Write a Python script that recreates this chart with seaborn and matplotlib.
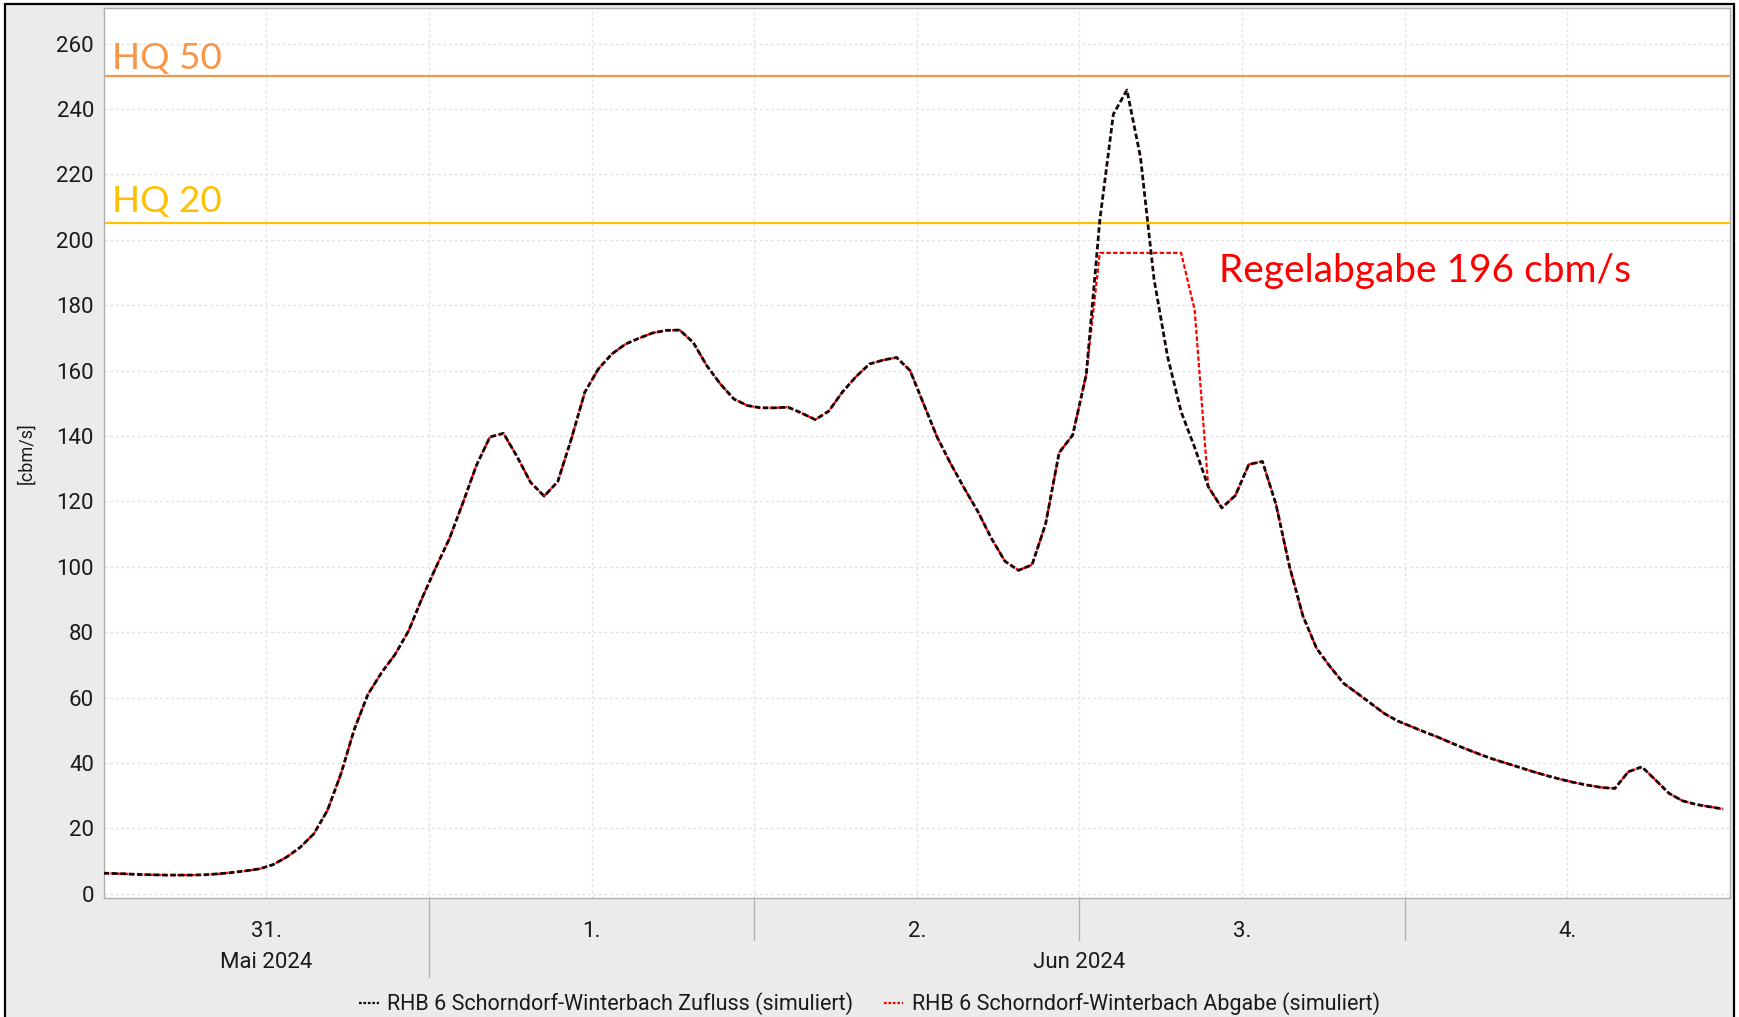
import numpy as np
import pandas as pd
import matplotlib
matplotlib.use("Agg")
import matplotlib.pyplot as plt
import matplotlib.transforms as mtransforms
from matplotlib.lines import Line2D
from matplotlib.patches import Rectangle
import seaborn as sns

# ---------------- data ----------------
# hours since 31 May 2024 00:00 (values are hourly means plotted at half past)
hours = [0.0] + [h + 0.5 for h in range(120)]
zufluss = [
    6.3,
    6.2, 6.1, 5.9, 5.8, 5.7, 5.7, 5.7, 5.8, 6.1, 6.5, 7.0, 7.6,
    8.9, 11.2, 14.2, 18.3, 25.4, 36.6, 50.4, 61.0, 67.6, 73.2, 80.4, 90.5,
    99.7, 108.5, 119.5, 131.0, 139.7, 140.8, 133.7, 125.8, 121.6, 126.0, 139.0, 153.4,
    160.5, 165.1, 168.1, 169.9, 171.5, 172.3, 172.4, 168.6, 161.5, 155.9, 151.3, 149.3,
    148.6, 148.6, 148.8, 147.0, 145.0, 147.6, 153.4, 158.1, 162.0, 163.2, 164.0, 160.0,
    149.8, 139.6, 131.5, 124.0, 116.9, 108.7, 101.7, 98.9, 100.6, 113.1, 134.9, 140.3,
    158.8, 206.0, 238.4, 245.8, 225.3, 188.0, 164.3, 147.4, 136.5, 124.5, 118.0, 121.8,
    131.3, 132.2, 119.1, 100.0, 84.8, 75.0, 69.4, 64.3, 61.3, 58.2, 55.1, 52.8,
    51.1, 49.4, 47.8, 46.0, 44.3, 42.7, 41.2, 39.9, 38.6, 37.3, 36.1, 35.0,
    34.0, 33.2, 32.5, 32.2, 37.3, 38.8, 34.8, 30.7, 28.4, 27.3, 26.6, 25.9,
]
# Abgabe equals Zufluss except while the basin throttles the outflow
regel_hours = [73.5, 74.5, 75.5, 76.5, 77.5, 78.5, 79.5, 80.5]
regel_values = [196, 196, 196, 196, 196, 196, 196, 178.5]

hq_levels = [250, 205]
hq_labels = ["HQ 50", "HQ 20"]
hq_colors = ["#f79646", "#ffc000"]

day_labels = ["31.", "1.", "2.", "3.", "4."]
day_centers = [12, 36, 60, 84, 108]
day_bounds = [48, 72, 96]
month_labels = ["Mai 2024", "Jun 2024"]
month_centers = [12, 72]
month_bounds = [24]
y_ticks = list(range(0, 261, 20))

legend_labels = [
    "RHB 6 Schorndorf-Winterbach Zufluss (simuliert)",
    "RHB 6 Schorndorf-Winterbach Abgabe (simuliert)",
]
annot_text = "Regelabgabe 196 cbm/s"

# ---------------- frame ----------------
abgabe_map = dict(zip(regel_hours, regel_values))
abgabe = [abgabe_map.get(h, v) for h, v in zip(hours, zufluss)]
df = pd.DataFrame({"Stunde": hours, "Zufluss": zufluss, "Abgabe": abgabe})

sns.set_style("white")
plt.rcParams["font.family"] = ["Roboto", "DejaVu Sans"]

W, H = 1739, 1017
fig = plt.figure(figsize=(W / 100, H / 100), dpi=100, facecolor="white")
bg = Rectangle((5 / W, -0.02), (1734 - 5) / W, 1 - 4 / H + 0.02,
               transform=fig.transFigure, facecolor="#ebebeb",
               edgecolor="black", lw=1.6, zorder=-10)
fig.patches.append(bg)

ax_l, ax_r, ax_t, ax_b = 103.7, 1730, 8.3, 898.3
ax = fig.add_axes([ax_l / W, 1 - ax_b / H, (ax_r - ax_l) / W, (ax_b - ax_t) / H])
ax.set_facecolor("white")

dash = (0, (2, 1))
sns.lineplot(data=df, x="Stunde", y="Abgabe", ax=ax, color="#ff0000",
             lw=1.6, linestyle=dash, zorder=3)
sns.lineplot(data=df, x="Stunde", y="Zufluss", ax=ax, color="#140808",
             lw=2.0, linestyle=dash, zorder=4)

for lvl, lab, col, dy in zip(hq_levels, hq_labels, hq_colors, [2.2, 3.6]):
    ax.axhline(lvl, color=col, lw=1.6, zorder=2)
    ax.text(0.6, lvl + dy, lab, color=col, fontsize=26.5,
            family=["Lato", "DejaVu Sans"], va="baseline", ha="left")

ax.text(82.3, 187.2, annot_text, color="#ff0000", fontsize=28,
        family=["Lato", "DejaVu Sans"], va="baseline", ha="left")

ax.set_xlim(0, 120)
ax.set_ylim(-1.4, 270.8)
ax.set_xticks(np.arange(0, 121, 12))
ax.set_xticks(np.arange(0, 121, 3), minor=True)
ax.set_xticklabels([])
ax.set_yticks(y_ticks)
ax.set_yticklabels([str(v) for v in y_ticks])
ax.grid(which="major", color="#e2e2e2", lw=1, linestyle=(0, (2, 2)))
ax.tick_params(axis="both", which="both", direction="out", length=4,
               width=1, color="#909090", labelsize=16, labelcolor="#1a1a1a")
ax.tick_params(axis="y", pad=3)
for s in ax.spines.values():
    s.set_color("#b0b0b0")
    s.set_linewidth(1)

ax.set_xlabel("")
ax.set_ylabel("[cbm/s]", fontsize=13, color="#1a1a1a")
ax.yaxis.set_label_coords(-0.0422, 0.5)

blend = mtransforms.blended_transform_factory(ax.transData, ax.transAxes)
for x, lab in zip(day_centers, day_labels):
    ax.text(x, -0.037, lab, transform=blend, ha="center", va="center",
            fontsize=16, color="#1a1a1a")
for x, lab in zip(month_centers, month_labels):
    ax.text(x, -0.0725, lab, transform=blend, ha="center", va="center",
            fontsize=16, color="#1a1a1a")
for x in day_bounds:
    ax.plot([x, x], [0, -0.047], transform=blend, clip_on=False,
            color="#b0b0b0", lw=1)
for x in month_bounds:
    ax.plot([x, x], [0, -0.0885], transform=blend, clip_on=False,
            color="#b0b0b0", lw=1)

handles = [Line2D([], [], color="#140808", lw=1.6, linestyle=(0, (1.2, 0.8))),
           Line2D([], [], color="#ff0000", lw=1.6, linestyle=(0, (1.2, 0.8)))]
fig.legend(handles, legend_labels, loc="center",
           bbox_to_anchor=(0.5, 1 - 1004 / H), ncol=2, frameon=False,
           fontsize=15.5, handlelength=0.9, handletextpad=0.4, columnspacing=1.4,
           labelcolor="#1a1a1a")

fig.savefig("out.png", dpi=100, facecolor=fig.get_facecolor())
